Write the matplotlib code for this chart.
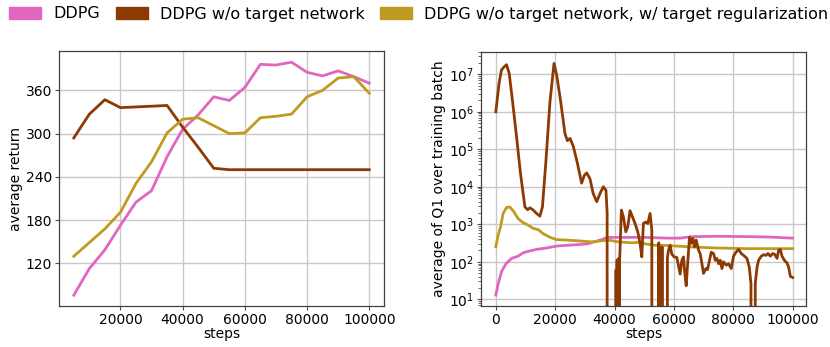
import numpy as np
import matplotlib
matplotlib.use("Agg")
import matplotlib.pyplot as plt
from matplotlib.patches import Patch
from matplotlib.ticker import MultipleLocator

# ---------- data ----------
labels = ["DDPG", "DDPG w/o target network",
          "DDPG w/o target network, w/ target regularization"]
colors = ["#e066c0", "#8c3a02", "#c09b20"]

# left: average return, evaluated every 5000 steps
eval_steps = [5000, 10000, 15000, 20000, 25000, 30000, 35000, 40000, 45000, 50000,
              55000, 60000, 65000, 70000, 75000, 80000, 85000, 90000, 95000, 100000]
ret_ddpg = [76, 113, 139, 173, 205, 221, 268, 306, 326, 351,
            346, 364, 396, 395, 399, 385, 380, 387, 379, 370]
ret_notarget = [294, 327, 347, 336, 337, 338, 339, 309, 281, 252,
                250, 250, 250, 250, 250, 250, 250, 250, 250, 250]
ret_reg = [130, 149, 168, 191, 231, 261, 301, 320, 322, 311,
           300, 301, 322, 324, 327, 351, 360, 377, 379, 356]

# right: average Q1 over training batch
q_ddpg_steps = [0, 800, 1900, 3400, 5300, 7500, 9200, 11500, 13700, 17100, 20500,
                23900, 28100, 31000, 34000, 36000, 37400, 44000, 50000, 58000,
                62000, 66000, 75000, 85000, 92000, 100000]
q_ddpg = [13, 26, 54, 89, 123, 141, 174, 195, 214, 234, 263,
          275, 288, 302, 355, 398, 447, 447, 447, 427,
          427, 468, 479, 468, 457, 427]

q_reg_steps = [0, 790, 1570, 2470, 3600, 4720, 5850, 7540, 9220, 10900, 12600,
               14280, 15970, 18220, 20490, 23860, 28110, 32300, 37900, 41280,
               45790, 48000, 49170, 53660, 56460, 65470, 73350, 84600, 100000]
q_reg = [250, 510, 850, 1950, 2820, 2880, 2290, 1410, 1100, 950, 780,
         720, 560, 450, 390, 380, 360, 340, 380, 340,
         320, 330, 310, 275, 275, 250, 235, 224, 224]

q_notarget_steps = [0, 1100, 1900, 2700, 3600, 4500, 5600, 7000, 8300, 9800,
                    10700, 11500, 12600, 13700, 14850, 15700, 16900, 18200, 19600,
                    20500, 21800, 23300, 24100, 25000, 26100, 27500, 28900, 29800,
                    30600, 31700, 32800, 34000, 35100, 36200, 37100, 37500, 37800,
                    40300, 40500, 40650, 40850, 41000, 41200, 41400, 41700, 42300,
                    42970, 43770, 44440, 45220, 46000, 46900, 47820, 48600, 49170,
                    49720, 50500, 51200, 51970, 52550, 52800, 54600, 54900, 55500,
                    56000, 56300, 57300, 57800, 58150, 58720, 59290, 60070, 60980,
                    61530, 62100, 62670, 63230, 63570, 64130, 64700, 65260, 65820,
                    66390, 66940, 67500, 68280, 68850, 69420, 69970, 70770, 71330,
                    72000, 72570, 73350, 73920, 74480, 75040, 75600, 76170, 76720,
                    77630, 78410, 79300, 80090, 80900, 81780, 82680, 83810, 84600,
                    85390, 85960, 86300, 87200, 87400, 88000, 88530, 89440, 90220,
                    91020, 91700, 92480, 93260, 93930, 94740, 95280, 95850, 96420,
                    97200, 98100, 98650, 99220, 100000]
q_notarget = [1.0e6, 5.8e6, 1.3e7, 1.55e7, 1.8e7, 1.07e7, 2.0e6, 2.1e5, 2.3e4, 2.9e3,
              2.45e3, 2.75e3, 2.4e3, 1.95e3, 1.65e3, 2.9e3, 5.1e4, 1.7e6, 1.95e7,
              9.5e6, 2.0e6, 2.6e5, 1.7e5, 1.95e5, 1.2e5, 4.2e4, 1.25e4, 2.0e4,
              2.35e4, 1.65e4, 6.6e3, 4.0e3, 6.6e3, 1.0e4, 8.1e3, 2.0e3, -100,
              -100, 60, -50, 110, -50, 120, -50, 100, 2.4e3,
              1.6e3, 630, 850, 2.3e3, 1.6e3, 1.05e3, 630, 310, 135,
              1.05e3, 1.15e3, 1.05e3, 1.95e3, 690, -100, -100, 320, -100,
              250, -100, -100, 130, 200, 275, 160, 135, 130,
              78, 47, 110, 135, 59, 23, 110, 450, 310,
              420, 250, 380, 205, 165, 89, 49, 66, 62,
              110, 180, 165, 110, 123, 89, 110, 66, 100,
              81, 89, 66, 141, 180, 214, 166, 141, 123,
              72, 26, -50, -50, 26, 72, 110, 141, 155,
              148, 166, 141, 166, 158, 123, 204, 214, 141,
              110, 93, 72, 41, 38]

# ---------- plot ----------
plt.rcParams["font.family"] = "DejaVu Sans"
fig = plt.figure(figsize=(8.3, 3.47), dpi=100)
ax1 = fig.add_axes([0.0711, 0.118, 0.3916, 0.735])
ax2 = fig.add_axes([0.5795, 0.118, 0.3916, 0.733])

lw = 2.0
ax1.plot(eval_steps, ret_ddpg, color=colors[0], lw=lw)
ax1.plot(eval_steps, ret_notarget, color=colors[1], lw=lw)
ax1.plot(eval_steps, ret_reg, color=colors[2], lw=lw)
ax1.set_ylim(61, 414.5)
ax1.yaxis.set_major_locator(MultipleLocator(60))
ax1.xaxis.set_major_locator(MultipleLocator(20000))
ax1.set_xlabel("steps", fontsize=10, labelpad=0)
ax1.set_ylabel("average return", fontsize=10, labelpad=2)

ax2.plot(q_ddpg_steps, q_ddpg, color=colors[0], lw=lw)
ax2.plot(q_reg_steps, q_reg, color=colors[2], lw=lw)
ax2.plot(q_notarget_steps, q_notarget, color=colors[1], lw=lw)
ax2.set_yscale("log", nonpositive="clip")
ax2.set_ylim(6.6, 4e7)
ax2.set_xlim(-5000, 104500)
ax2.xaxis.set_major_locator(MultipleLocator(20000))
ax2.set_xlabel("steps", fontsize=10, labelpad=0)
ax2.set_ylabel("average of Q1 over training batch", fontsize=10, labelpad=2)

for ax in (ax1, ax2):
    ax.grid(True, which="major", color="#c8c8c8", lw=1.0)
    ax.set_axisbelow(True)
    ax.tick_params(labelsize=10, length=3, width=0.8, color="0.3", pad=2)
    ax.tick_params(which="minor", length=2, width=0.6, color="0.3")
    for s in ax.spines.values():
        s.set_color("0.25")
        s.set_linewidth(0.9)

handles = [Patch(facecolor=c, edgecolor=c) for c in colors]
fig.legend(handles, labels, loc="center left", bbox_to_anchor=(9 / 830, 1 - 14 / 347),
           ncol=3, frameon=False, fontsize=11.5, borderpad=0, borderaxespad=0,
           handlelength=2.0, handleheight=0.7, handletextpad=0.75, columnspacing=1.0)

fig.savefig("out.png", dpi=100)
